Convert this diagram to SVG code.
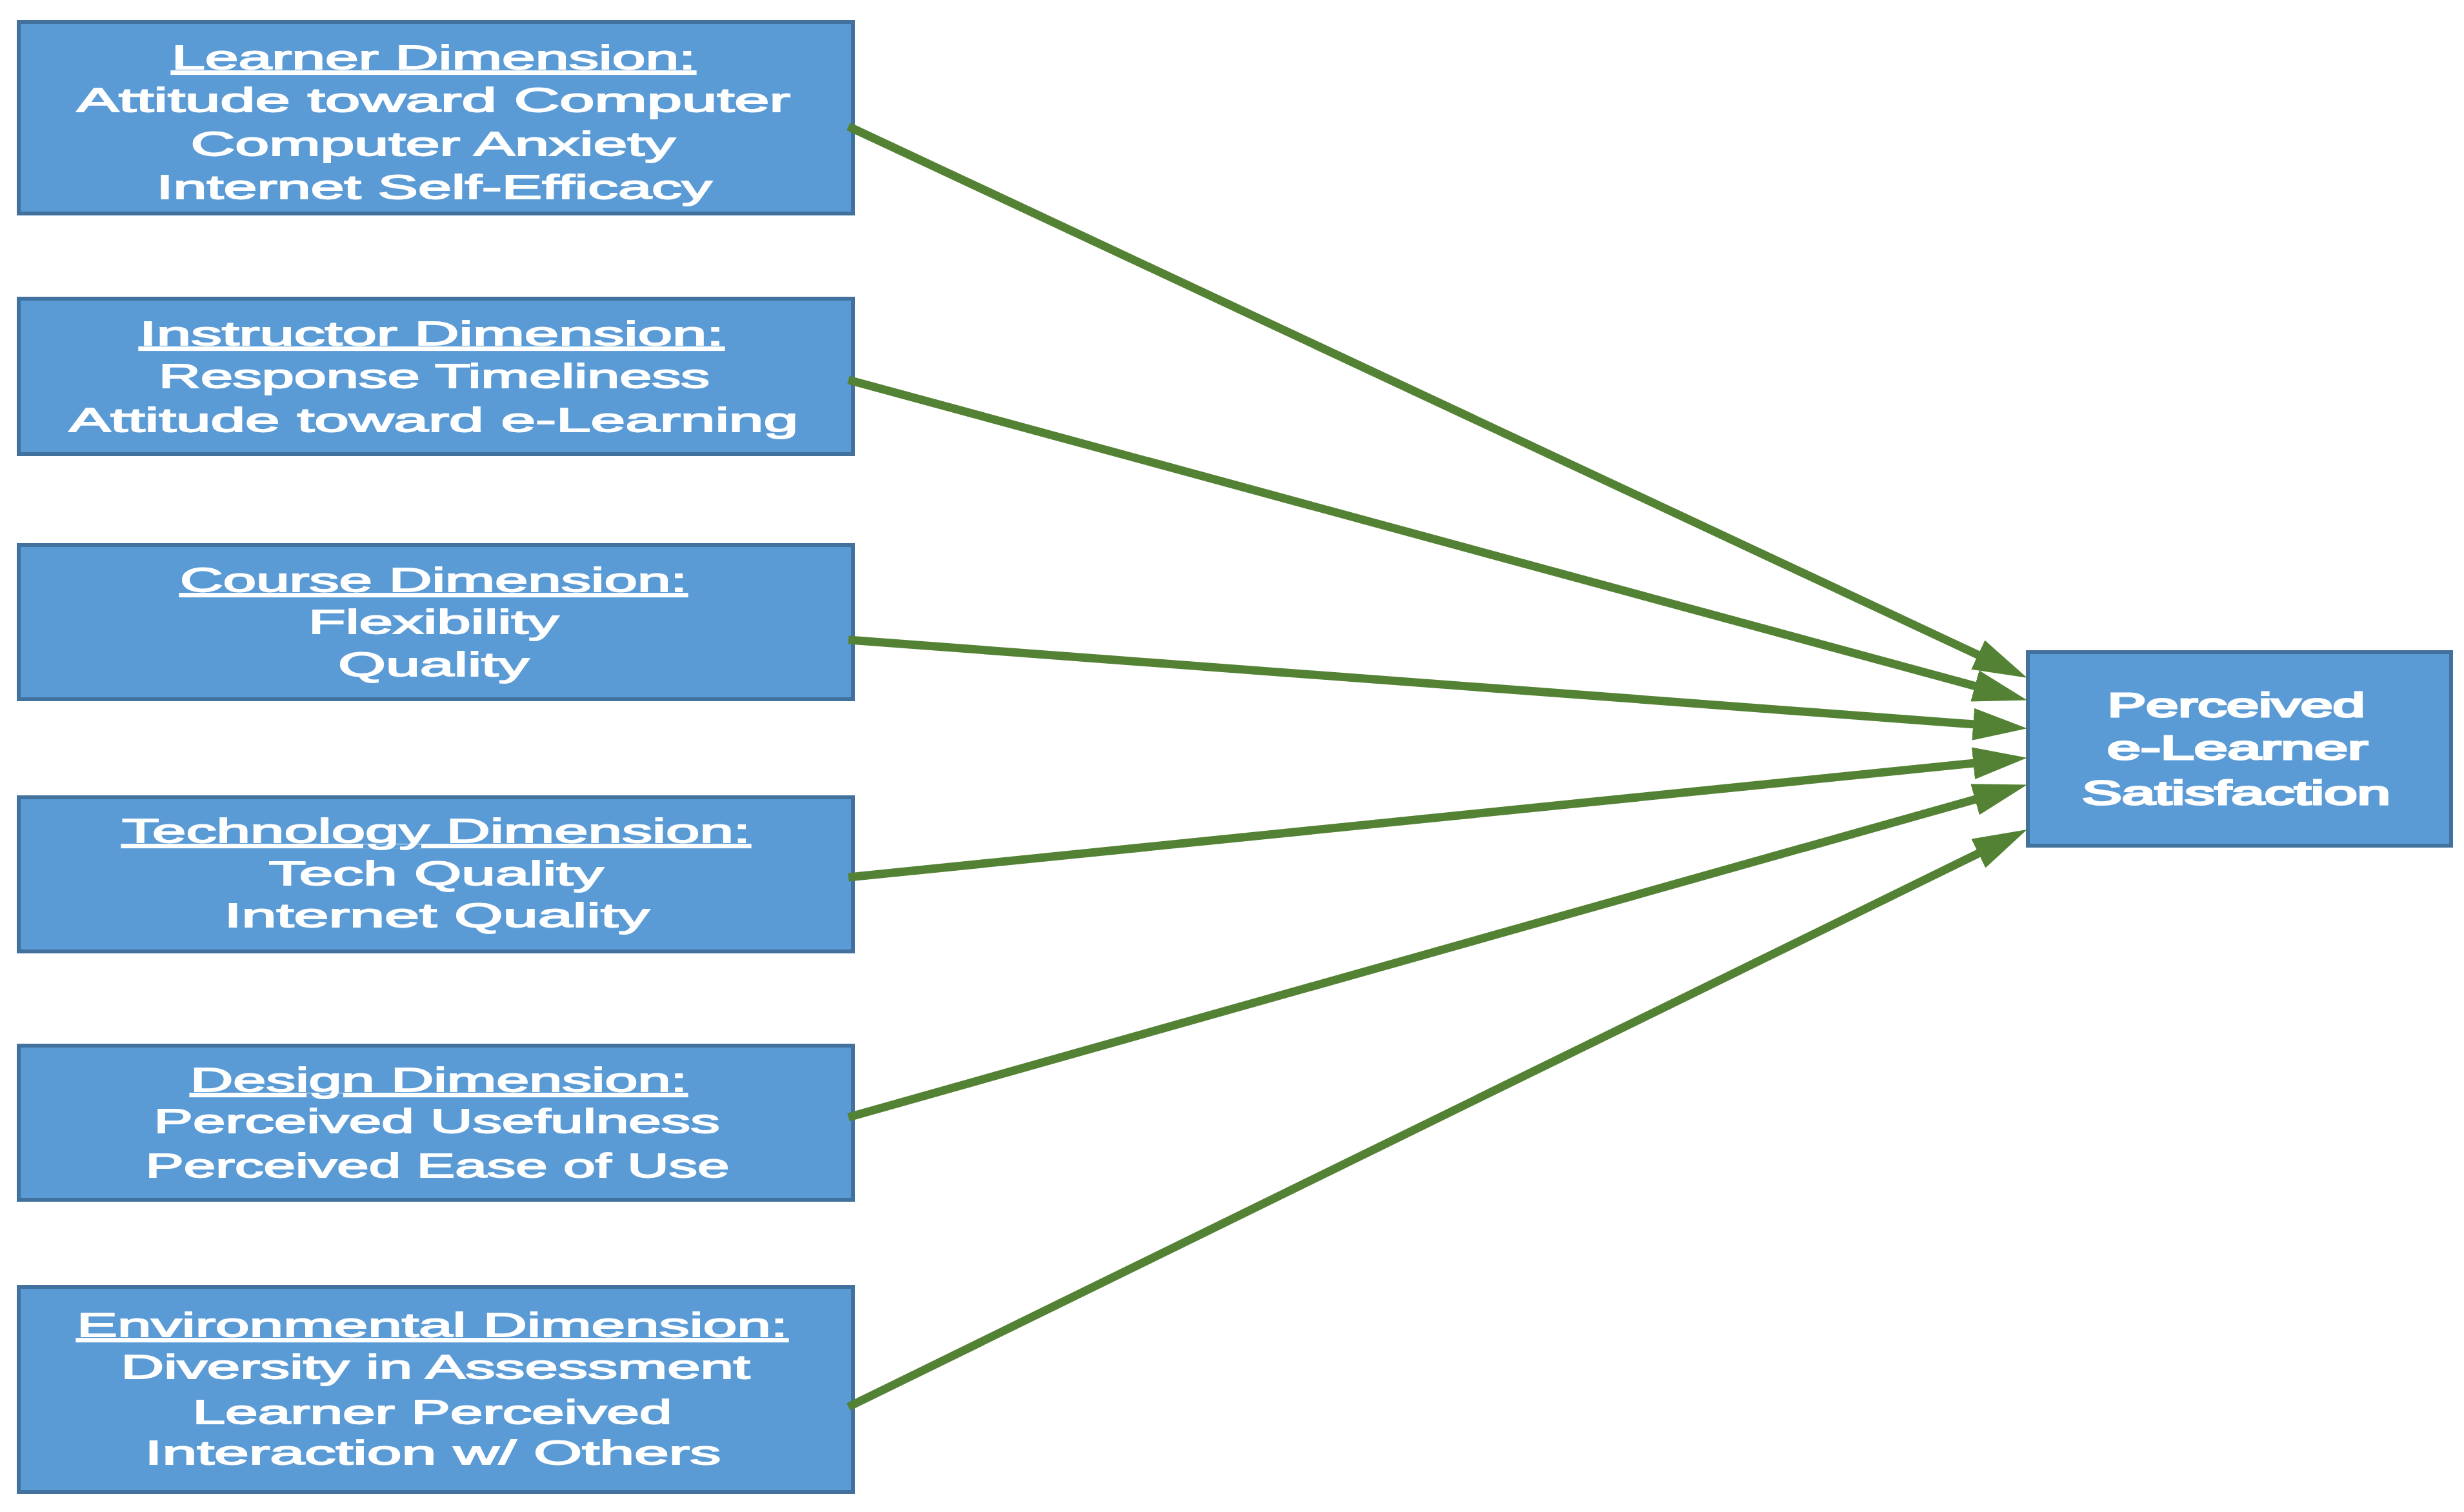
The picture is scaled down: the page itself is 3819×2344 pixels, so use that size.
<svg xmlns="http://www.w3.org/2000/svg" width="3819" height="2344" viewBox="0 0 3819 2344">
<style>
.box{fill:#5B9BD5;stroke:#41719C;stroke-width:6}
.t{font-family:"Liberation Sans",Arial,sans-serif;font-size:52px;fill:#FFFFFF;stroke:#FFFFFF;stroke-width:1.8;text-anchor:middle}
.b{stroke-width:3}
.u{text-decoration:underline}
.c{stroke:#548235;stroke-width:13;fill:none;marker-end:url(#ah)}
</style>
<defs>
<marker id="ah" markerUnits="userSpaceOnUse" markerWidth="84" markerHeight="50" refX="42" refY="25" orient="auto">
<path d="M0,0 L84,25 L0,50 z" fill="#548235"/>
</marker>
</defs>
<rect width="3819" height="2344" fill="#FFFFFF"/>
<g id="learner">
<rect class="box" x="29" y="34" width="1293" height="297"/>
<text class="t u" x="672" y="107" textLength="812" lengthAdjust="spacingAndGlyphs">Learner Dimension:</text>
<text class="t" x="672" y="173" textLength="1106" lengthAdjust="spacingAndGlyphs">Attitude toward Computer</text>
<text class="t" x="671" y="241" textLength="751" lengthAdjust="spacingAndGlyphs">Computer Anxiety</text>
<text class="t" x="673" y="308" textLength="861" lengthAdjust="spacingAndGlyphs">Internet Self-Efficacy</text>
</g>
<g id="instructor">
<rect class="box" x="29" y="463" width="1293" height="241"/>
<text class="t u" x="669" y="535" textLength="906" lengthAdjust="spacingAndGlyphs">Instructor Dimension:</text>
<text class="t" x="673" y="601" textLength="854" lengthAdjust="spacingAndGlyphs">Response Timeliness</text>
<text class="t" x="672" y="669" textLength="1130" lengthAdjust="spacingAndGlyphs">Attitude toward e-Learning</text>
</g>
<g id="course">
<rect class="box" x="29" y="845" width="1293" height="239"/>
<text class="t u" x="672" y="917" textLength="786" lengthAdjust="spacingAndGlyphs">Course Dimension:</text>
<text class="t" x="672" y="982" textLength="388" lengthAdjust="spacingAndGlyphs">Flexibility</text>
<text class="t" x="672" y="1048" textLength="296" lengthAdjust="spacingAndGlyphs">Quality</text>
</g>
<g id="technology">
<rect class="box" x="29" y="1236" width="1293" height="239"/>
<text class="t u" x="676" y="1306" textLength="974" lengthAdjust="spacingAndGlyphs">Technology Dimension:</text>
<text class="t" x="676" y="1372" textLength="519" lengthAdjust="spacingAndGlyphs">Tech Quality</text>
<text class="t" x="677" y="1437" textLength="659" lengthAdjust="spacingAndGlyphs">Internet Quality</text>
</g>
<g id="design">
<rect class="box" x="29" y="1621" width="1293" height="239"/>
<text class="t u" x="680" y="1692" textLength="770" lengthAdjust="spacingAndGlyphs">Design Dimension:</text>
<text class="t" x="677" y="1756" textLength="877" lengthAdjust="spacingAndGlyphs">Perceived Usefulness</text>
<text class="t" x="678" y="1825" textLength="905" lengthAdjust="spacingAndGlyphs">Perceived Ease of Use</text>
</g>
<g id="environmental">
<rect class="box" x="29" y="1995" width="1293" height="318"/>
<text class="t u" x="670" y="2072" textLength="1102" lengthAdjust="spacingAndGlyphs">Environmental Dimension:</text>
<text class="t" x="675" y="2137" textLength="975" lengthAdjust="spacingAndGlyphs">Diversity in Assessment</text>
<text class="t" x="670" y="2207" textLength="743" lengthAdjust="spacingAndGlyphs">Learner Perceived</text>
<text class="t" x="671" y="2270" textLength="893" lengthAdjust="spacingAndGlyphs">Interaction w/ Others</text>
</g>
<g id="satisfaction">
<rect class="box" x="3143" y="1011" width="656" height="300"/>
<text class="t b" x="3466" y="1111" textLength="399" lengthAdjust="spacingAndGlyphs">Perceived</text>
<text class="t b" x="3468" y="1177" textLength="404" lengthAdjust="spacingAndGlyphs">e-Learner</text>
<text class="t b" x="3466" y="1247" textLength="478" lengthAdjust="spacingAndGlyphs">Satisfaction</text>
</g>
<g id="connectors">
<line class="c" x1="1315" y1="196" x2="3103.8" y2="1033"/>
<line class="c" x1="1315" y1="589" x2="3101.4" y2="1074.5"/>
<line class="c" x1="1315" y1="992" x2="3100.1" y2="1126"/>
<line class="c" x1="1315" y1="1360" x2="3100.2" y2="1179"/>
<line class="c" x1="1315" y1="1732" x2="3101.5" y2="1227.9"/>
<line class="c" x1="1315" y1="2181" x2="3104.1" y2="1304.6"/>
</g>
</svg>
